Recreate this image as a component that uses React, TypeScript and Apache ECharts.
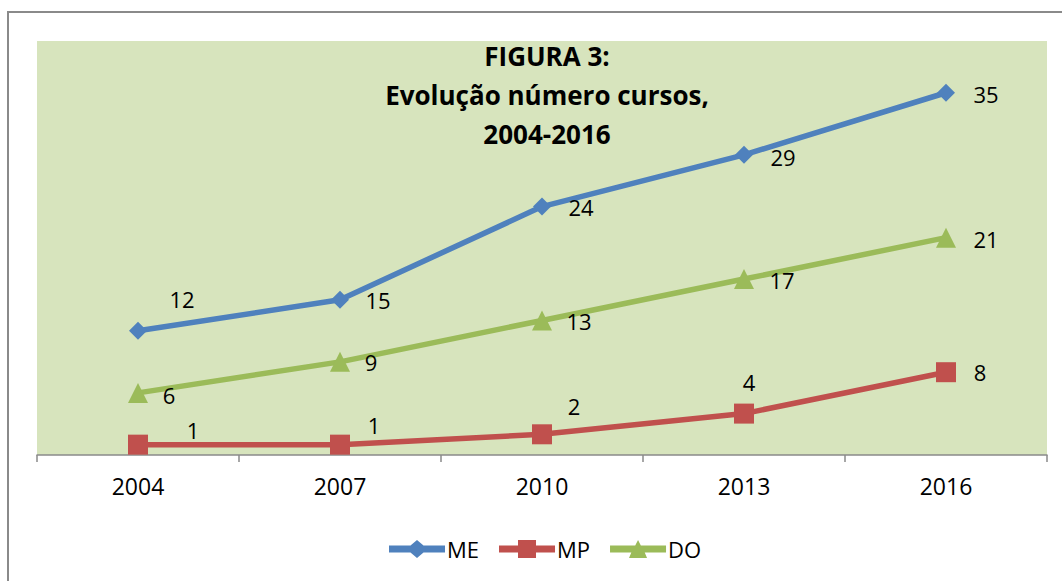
import React, { useEffect, useRef } from "react";
import * as echarts from "echarts";

const categories = ["2004", "2007", "2010", "2013", "2016"];
const meValues = [12, 15, 24, 29, 35];
const mpValues = [1, 1, 2, 4, 8];
const doValues = [6, 9, 13, 17, 21];
const titleLines = ["FIGURA 3:", "Evolução número cursos,", "2004-2016"];

// label offsets (style only)
const meOffsets = [[44, -32], [38, 0], [39, 0], [39, 2], [40, 1]];
const mpOffsets = [[55, -15], [34, -20], [32, -28], [5, -32], [34, 0]];
const doOffsets = [[31, 2], [31, 0], [37, 1], [38, 1], [40, 1]];

const FONT = "'Open Sans', Lato, sans-serif";

// legend icons: thick line + marker (56 x 18 box)
const ICON_ME =
  "path://M0,5.5L21.5,5.5L28,0L34.5,5.5L56,5.5L56,12.5L34.5,12.5L28,18L21.5,12.5L0,12.5Z";
const ICON_MP =
  "path://M0,5.5L19,5.5L19,0L37,0L37,5.5L56,5.5L56,12.5L37,12.5L37,18L19,18L19,12.5L0,12.5Z";
const ICON_DO =
  "path://M0,5.5L25.2,5.5L28,0L30.8,5.5L56,5.5L56,12.5L34.7,12.5L37,18L19,18L21.3,12.5L0,12.5Z";

function withLabels(values: number[], offsets: number[][]) {
  return values.map((v, i) => ({
    value: v,
    label: { offset: offsets[i] },
  }));
}

export default function App() {
  const ref = useRef<HTMLDivElement>(null);
  useEffect(() => {
    if (!ref.current) return;
    const chart = echarts.init(ref.current, null, { renderer: "svg" });
    const labelBase = {
      show: true,
      position: "inside",
      color: "#000",
      fontSize: 22,
      fontFamily: FONT,
    };
    chart.setOption({
      animation: false,
      textStyle: { fontFamily: FONT },
      graphic: [
        {
          type: "rect",
          shape: { x: 8, y: 12, width: 1200, height: 700 },
          style: { fill: "none", stroke: "#8a8a8a", lineWidth: 2 },
          z: -10,
        },
      ],
      title: {
        text: titleLines.join("\n"),
        left: 542,
        textAlign: "center",
        top: 31,
        textStyle: {
          fontSize: 26,
          fontWeight: "bold",
          color: "#000",
          fontFamily: FONT,
          lineHeight: 39,
        },
      },
      grid: {
        left: 37,
        right: 15,
        top: 41,
        bottom: 126,
        show: true,
        backgroundColor: "#D7E4BD",
        borderWidth: 0,
      },
      legend: {
        bottom: 16,
        left: 384,
        itemWidth: 56,
        itemHeight: 18,
        itemGap: 20,
        symbolKeepAspect: false,
        itemStyle: { borderWidth: 0 },
        lineStyle: { width: 6 },
        textStyle: { fontSize: 22, color: "#000", fontFamily: FONT, padding: [0, 0, 0, -3] },
        data: [
          { name: "ME", icon: ICON_ME },
          { name: "MP", icon: ICON_MP },
          { name: "DO", icon: ICON_DO },
        ],
      },
      xAxis: {
        type: "category",
        data: categories,
        boundaryGap: true,
        axisLine: { lineStyle: { color: "#8a8a8a", width: 1.5 } },
        axisTick: { show: true, length: 7, lineStyle: { color: "#8a8a8a", width: 1.5 } },
        axisLabel: { color: "#000", fontSize: 23, margin: 19, fontFamily: FONT },
        splitLine: { show: false },
      },
      yAxis: {
        type: "value",
        min: 0,
        max: 40,
        show: false,
        splitLine: { show: false },
      },
      series: [
        {
          name: "ME",
          type: "line",
          data: withLabels(meValues, meOffsets),
          color: "#4F81BD",
          legendIcon: ICON_ME,
          lineStyle: { width: 5.5, color: "#4F81BD" },
          symbol: "path://M0,-1L1,0L0,1L-1,0Z",
          symbolSize: 18,
          itemStyle: { color: "#4F81BD" },
          label: labelBase,
          z: 3,
        },
        {
          name: "MP",
          type: "line",
          data: withLabels(mpValues, mpOffsets),
          color: "#C0504D",
          legendIcon: ICON_MP,
          lineStyle: { width: 5.5, color: "#C0504D" },
          symbol: "rect",
          symbolSize: 20,
          itemStyle: { color: "#C0504D" },
          label: labelBase,
          z: 3,
        },
        {
          name: "DO",
          type: "line",
          data: withLabels(doValues, doOffsets),
          color: "#9BBB59",
          legendIcon: ICON_DO,
          lineStyle: { width: 5.5, color: "#9BBB59" },
          symbol: "triangle",
          symbolSize: 20,
          itemStyle: { color: "#9BBB59" },
          label: labelBase,
          z: 3,
        },
      ],
    });
    return () => chart.dispose();
  }, []);
  return (
    <div
      ref={ref}
      style={{ position: "fixed", left: 0, top: 0, width: 1062, height: 581, background: "#fff" }}
    />
  );
}
